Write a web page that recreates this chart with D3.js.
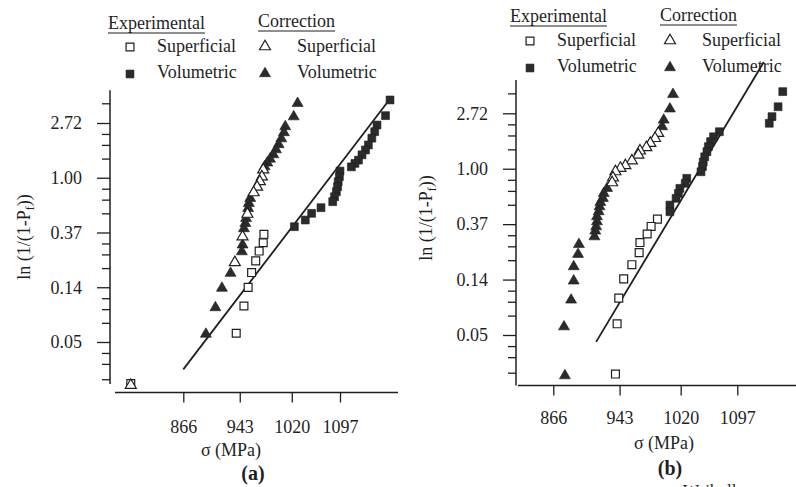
<!DOCTYPE html>
<html>
<head>
<meta charset="utf-8">
<script src="https://cdn.jsdelivr.net/npm/d3@7"></script>
<style>
  body { margin: 0; background: #fff; }
  svg text { font-family: "Liberation Serif", "Times New Roman", serif; fill: #1f1f1f; }
</style>
</head>
<body>
<div id="chart"></div>
<script>
// y ticks are e^k of ln(1/(1-Pf)), labelled with their value
var yMajorLn = [1, 0, -1, -2, -3];
var yTickLabels = ["2.72", "1.00", "0.37", "0.14", "0.05"];
var yMinorLn = [1.36, 0.8, 0.6, 0.35, -0.2, -0.4, -0.65, -1.2, -1.4, -1.65, -2.2, -2.4, -2.65, -3.2, -3.4, -3.68];
var xTicks = [866, 943, 1020, 1097];

// panel (a): [sigma (MPa), ln(1/(1-Pf))]
var aExpSup = [[978, 0.356], [977, 0.305], [971, 0.262], [966, 0.219], [960, 0.177],
  [955, 0.135], [949, 0.0961], [938, 0.0584], [800, 0.0233]];
var aExpVol = [[1183, 4.14], [1175, 3.11], [1160, 2.62], [1156, 2.32], [1151, 2.06],
  [1145, 1.82], [1140, 1.66], [1134, 1.52], [1128, 1.38], [1122, 1.30], [1116, 1.22],
  [1097, 1.13], [1096, 1.02], [1094, 0.93], [1093, 0.85], [1091, 0.775], [1088, 0.707],
  [1085, 0.646], [1066, 0.579], [1051, 0.522], [1041, 0.462], [1024, 0.409]];
var aCorSup = [[977, 1.19], [975, 1.05], [972, 0.96], [968, 0.87], [963, 0.785],
  [954, 0.530], [947, 0.351], [936, 0.219], [800, 0.0233]];
var aCorVol = [[1029, 4.01], [1023, 3.14], [1010, 2.62], [1008, 2.35], [1004, 2.10],
  [1000, 1.89], [996, 1.72], [992, 1.57], [987, 1.45], [983, 1.35], [979, 1.26],
  [958, 0.707], [956, 0.646], [955, 0.589], [952, 0.491], [951, 0.448], [949, 0.407],
  [947, 0.302], [946, 0.267], [930, 0.180], [918, 0.137], [909, 0.0961], [896, 0.0592]];
var aFit = [[866, 0.0302], [1177, 3.90]];

// panel (b)
var bExpSup = [[990, 0.403], [982, 0.353], [977, 0.308], [968, 0.264], [967, 0.220],
  [958, 0.177], [948, 0.137], [942, 0.0969], [940, 0.0609], [938, 0.0246]];
var bExpVol = [[1163, 4.02], [1156, 3.06], [1147, 2.56], [1143, 2.27], [1072, 1.95],
  [1064, 1.78], [1060, 1.63], [1057, 1.49], [1055, 1.36], [1052, 1.24], [1050, 1.13],
  [1049, 1.04], [1047, 0.947], [1028, 0.841], [1026, 0.768], [1019, 0.702],
  [1017, 0.641], [1014, 0.586], [1006, 0.519], [1006, 0.460]];
var bCorSup = [[991, 1.95], [987, 1.78], [981, 1.63], [976, 1.51], [968, 1.42],
  [966, 1.32], [958, 1.19], [950, 1.09], [944, 1.04], [938, 0.977], [935, 0.876], [934, 0.801]];
var bCorVol = [[1010, 3.94], [1006, 3.03], [998, 2.48], [996, 2.20], [928, 0.723],
  [924, 0.660], [923, 0.604], [920, 0.561], [919, 0.519], [918, 0.475], [916, 0.434],
  [916, 0.396], [915, 0.362], [914, 0.335], [913, 0.302], [895, 0.263], [894, 0.220],
  [889, 0.176], [889, 0.136], [886, 0.0964], [878, 0.0595], [879, 0.0246]];
var bFit = [[915, 0.0440], [1135, 6.86]];

var ink = "#1f1f1f";
var serif = '"Liberation Serif", "Times New Roman", serif';

var svg = d3.select("#chart")
  .append("svg")
    .attr("width", 796)
    .attr("height", 487);
svg.append("rect").attr("width", 796).attr("height", 487).attr("fill", "#fff");

// triangle with its box centred on the point
var triangle = {
  draw: function(ctx, size) {
    var w = Math.sqrt(size), h = w * 0.86;
    ctx.moveTo(0, -h / 2);
    ctx.lineTo(w / 2, h / 2);
    ctx.lineTo(-w / 2, h / 2);
    ctx.closePath();
  }
};
var squarePath = d3.symbol().type(d3.symbolSquare).size(62)();
var triPath = d3.symbol().type(triangle).size(121)();

function marker(g, kind, cx, cy) {
  var open = kind == "os" || kind == "ot";
  g.append("path")
    .attr("d", (kind == "os" || kind == "fs") ? squarePath : triPath)
    .attr("transform", "translate(" + cx + "," + cy + ")")
    .attr("fill", open ? "#fff" : "#2b2b2b")
    .attr("stroke", ink)
    .attr("stroke-width", open ? 1.2 : 0.6);
}

function drawPanel(p) {
  var x = d3.scaleLog().domain([866, 1097]).range(p.xRange);
  var y = d3.scaleLog().base(Math.E).domain([Math.E, Math.exp(-3)]).range(p.yRange);
  var g = svg.append("g").attr("color", ink);

  // Y axis: line, major ticks with labels, minor ticks
  g.append("line")
    .attr("x1", p.axisX).attr("x2", p.axisX)
    .attr("y1", y(Math.exp(1.6))).attr("y2", p.axisYEnd)
    .attr("stroke", ink).attr("stroke-width", 1.5);
  var yMaj = g.append("g")
    .attr("transform", "translate(" + p.axisX + ",0)")
    .call(d3.axisLeft(y)
      .tickValues(yMajorLn.map(Math.exp))
      .tickSize(13).tickPadding(15)
      .tickFormat(function(d) { return yTickLabels[yMajorLn.indexOf(Math.round(Math.log(d)))]; }));
  var yMin = g.append("g")
    .attr("transform", "translate(" + p.axisX + ",0)")
    .call(d3.axisLeft(y).tickValues(yMinorLn.map(Math.exp)).tickSize(8).tickFormat(""));

  // X axis
  g.append("line")
    .attr("x1", p.xAxisStart).attr("x2", p.xAxisEnd)
    .attr("y1", p.axisY).attr("y2", p.axisY)
    .attr("stroke", ink).attr("stroke-width", 1.5);
  var xAx = g.append("g")
    .attr("transform", "translate(0," + p.axisY + ")")
    .call(d3.axisBottom(x).tickValues(xTicks).tickSize(10).tickPadding(p.xPad).tickFormat(d3.format("d")));

  [yMaj, yMin, xAx].forEach(function(a) {
    a.select(".domain").remove();
    a.attr("font-family", serif).attr("font-size", 18);
    a.selectAll("line").attr("stroke-width", 1.3);
  });

  // axis titles
  var yl = g.append("text")
    .attr("text-anchor", "middle")
    .attr("font-size", 18)
    .attr("transform", "translate(" + p.yLabel[0] + "," + p.yLabel[1] + ") rotate(-90)");
  yl.append("tspan").text("ln (1/(1-P");
  yl.append("tspan").attr("font-size", 12).attr("dy", 4).text("f");
  yl.append("tspan").attr("dy", -4).text("))");

  g.append("text")
    .attr("text-anchor", "middle").attr("font-size", 18)
    .attr("x", p.xLabel[0]).attr("y", p.xLabel[1])
    .text("\u03c3 (MPa)");
  g.append("text")
    .attr("text-anchor", "middle").attr("font-size", 20).attr("font-weight", "bold")
    .attr("x", p.tag[0]).attr("y", p.tag[1])
    .text(p.tagText);

  // fitted Weibull line
  g.append("path")
    .datum(p.fit)
    .attr("d", d3.line().x(function(d) { return x(d[0]); }).y(function(d) { return y(d[1]); }))
    .attr("fill", "none").attr("stroke", ink).attr("stroke-width", 1.8);

  // points
  var pts = g.append("g");
  p.expSup.forEach(function(d) { marker(pts, "os", x(d[0]), y(d[1])); });
  p.expVol.forEach(function(d) { marker(pts, "fs", x(d[0]), y(d[1])); });
  p.corVol.forEach(function(d) { marker(pts, "ft", x(d[0]), y(d[1])); });
  p.corSup.forEach(function(d) { marker(pts, "ot", x(d[0]), y(d[1])); });

  // legend
  var L = p.legend;
  var lg = g.append("g");
  var h1 = lg.append("text").attr("font-size", 18).attr("x", L.exp[0]).attr("y", L.exp[1]).text("Experimental");
  var h2 = lg.append("text").attr("font-size", 18).attr("x", L.cor[0]).attr("y", L.cor[1]).text("Correction");
  [[h1, L.exp], [h2, L.cor]].forEach(function(h) {
    var w = h[0].node().getComputedTextLength();
    lg.append("line")
      .attr("x1", h[1][0]).attr("x2", h[1][0] + w)
      .attr("y1", h[1][1] + 4).attr("y2", h[1][1] + 4)
      .attr("stroke", ink).attr("stroke-width", 1);
  });
  marker(lg, "os", L.col1, L.row1 - 5);
  marker(lg, "fs", L.col1, L.row2 - 4);
  marker(lg, "ot", L.col2, L.row1 - 7);
  marker(lg, "ft", L.col2, L.row2 - 6);
  [["Superficial", L.col1 + 27, L.row1], ["Volumetric", L.col1 + 27, L.row2],
   ["Superficial", L.col2 + 32, L.row1], ["Volumetric", L.col2 + 32, L.row2]].forEach(function(t) {
    lg.append("text").attr("font-size", 18).attr("x", t[1]).attr("y", t[2]).text(t[0]);
  });
}

drawPanel({
  xRange: [183.3, 340], yRange: [123, 342],
  axisX: 110, axisYEnd: 384, axisY: 392.5, xAxisStart: 115, xAxisEnd: 398, xPad: 18,
  yLabel: [30, 237], xLabel: [231, 456], tag: [253, 480], tagText: "(a)",
  fit: aFit, expSup: aExpSup, expVol: aExpVol, corSup: aCorSup, corVol: aCorVol,
  legend: { exp: [108, 29], cor: [258, 27], col1: 130, col2: 265, row1: 52, row2: 78 }
});

drawPanel({
  xRange: [553.3, 737.3], yRange: [113.3, 335],
  axisX: 516, axisYEnd: 385.5, axisY: 385.5, xAxisStart: 518, xAxisEnd: 796, xPad: 16,
  yLabel: [432, 218], xLabel: [664, 449], tag: [670, 475], tagText: "(b)",
  fit: bFit, expSup: bExpSup, expVol: bExpVol, corSup: bCorSup, corVol: bCorVol,
  legend: { exp: [510, 22], cor: [660, 21], col1: 530, col2: 670, row1: 46, row2: 72 }
});

// caption text cut by the bottom edge of the scan
svg.append("text").attr("font-size", 17).attr("x", 683).attr("y", 496).text("Weibull");
</script>
</body>
</html>
